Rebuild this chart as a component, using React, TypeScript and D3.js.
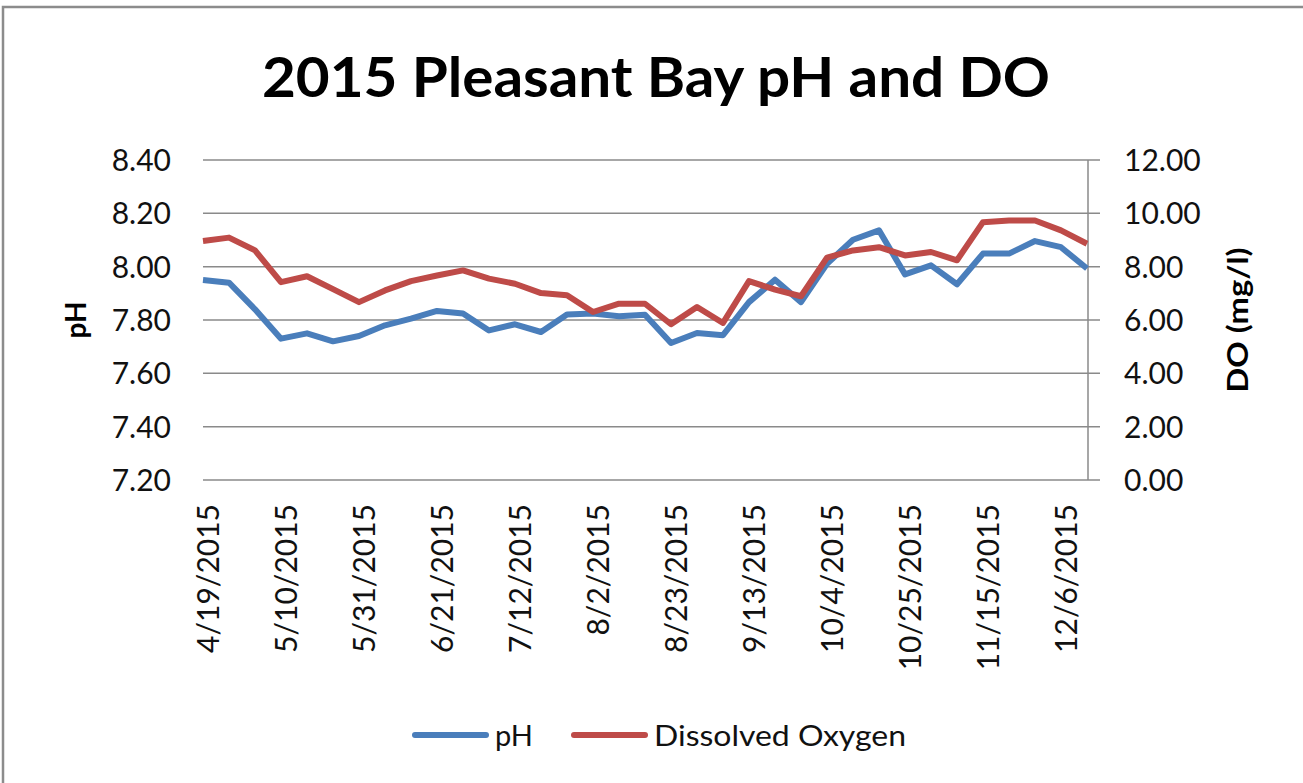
import React, { useEffect, useRef } from 'react';
import * as d3 from 'd3';

const dates = [
  '4/19/2015', '4/26/2015', '5/3/2015', '5/10/2015', '5/17/2015', '5/24/2015', '5/31/2015',
  '6/7/2015', '6/14/2015', '6/21/2015', '6/28/2015', '7/5/2015', '7/12/2015', '7/19/2015',
  '7/26/2015', '8/2/2015', '8/9/2015', '8/16/2015', '8/23/2015', '8/30/2015', '9/6/2015',
  '9/13/2015', '9/20/2015', '9/27/2015', '10/4/2015', '10/11/2015', '10/18/2015', '10/25/2015',
  '11/1/2015', '11/8/2015', '11/15/2015', '11/22/2015', '11/29/2015', '12/6/2015', '12/13/2015',
];

const phValues = [
  7.95, 7.94, 7.84, 7.73, 7.75, 7.72, 7.74,
  7.78, 7.805, 7.834, 7.824, 7.761, 7.784, 7.755,
  7.821, 7.824, 7.814, 7.82, 7.714, 7.751, 7.743,
  7.867, 7.951, 7.867, 8.011, 8.101, 8.136, 7.971,
  8.005, 7.934, 8.049, 8.049, 8.096, 8.073, 7.993,
];

const doValues = [
  8.96, 9.09, 8.61, 7.42, 7.64, 7.16, 6.67,
  7.11, 7.46, 7.67, 7.86, 7.55, 7.36, 7.01,
  6.93, 6.3, 6.61, 6.61, 5.84, 6.49, 5.89,
  7.46, 7.14, 6.89, 8.34, 8.61, 8.73, 8.42,
  8.55, 8.24, 9.67, 9.73, 9.73, 9.36, 8.86,
];

const xTickLabels = [
  '4/19/2015', '5/10/2015', '5/31/2015', '6/21/2015', '7/12/2015', '8/2/2015',
  '8/23/2015', '9/13/2015', '10/4/2015', '10/25/2015', '11/15/2015', '12/6/2015',
];

const phTicks = [7.2, 7.4, 7.6, 7.8, 8.0, 8.2, 8.4];
const doTicks = [0, 2, 4, 6, 8, 10, 12];

const App = () => {
  const ref = useRef<SVGSVGElement>(null);

  useEffect(() => {
    const svg = d3.select(ref.current);
    svg.selectAll('*').remove();

    const font = 'Lato, "Liberation Sans", sans-serif';
    const parse = d3.timeParse('%m/%d/%Y');
    const left = 203;
    const right = 1088;
    const top = 160;
    const bottom = 480;

    const x = d3.scaleTime()
      .domain([parse(dates[0]), parse(dates[dates.length - 1])])
      .range([left, right - 1]);
    const yPh = d3.scaleLinear().domain([7.2, 8.4]).range([bottom, top]);
    const yDo = d3.scaleLinear().domain([0, 12]).range([bottom, top]);

    // frame
    svg.append('rect')
      .attr('x', 3).attr('y', 7)
      .attr('width', 1320).attr('height', 800)
      .attr('fill', 'white')
      .attr('stroke', '#8c8c8c')
      .attr('stroke-width', 2.5);

    svg.append('text')
      .attr('x', 656).attr('y', 97)
      .attr('text-anchor', 'middle')
      .attr('font-family', font)
      .attr('font-weight', 700)
      .attr('font-size', 56)
      .attr('textLength', 788)
      .attr('lengthAdjust', 'spacingAndGlyphs')
      .text('2015 Pleasant Bay pH and DO');

    // gridlines
    svg.append('g')
      .selectAll('line')
      .data(phTicks)
      .enter()
      .append('line')
      .attr('x1', left).attr('x2', right + 12)
      .attr('y1', d => yPh(d)).attr('y2', d => yPh(d))
      .attr('stroke', '#8a8a8a')
      .attr('stroke-width', 1.5);

    // right axis line
    svg.append('line')
      .attr('x1', right).attr('x2', right)
      .attr('y1', top).attr('y2', bottom)
      .attr('stroke', '#8a8a8a')
      .attr('stroke-width', 1.5);

    svg.append('g')
      .selectAll('text')
      .data(phTicks)
      .enter()
      .append('text')
      .attr('x', 171).attr('y', d => yPh(d) + 11)
      .attr('text-anchor', 'end')
      .attr('font-family', font)
      .attr('font-size', 30)
      .attr('fill', '#111')
      .text(d => d3.format('.2f')(d));

    svg.append('g')
      .selectAll('text')
      .data(doTicks)
      .enter()
      .append('text')
      .attr('x', 1124).attr('y', d => yDo(d) + 11)
      .attr('text-anchor', 'start')
      .attr('font-family', font)
      .attr('font-size', 30)
      .attr('fill', '#111')
      .text(d => d3.format('.2f')(d));

    svg.append('text')
      .attr('transform', `translate(86,${(top + bottom) / 2}) rotate(-90)`)
      .attr('text-anchor', 'middle')
      .attr('font-family', font)
      .attr('font-weight', 700)
      .attr('font-size', 28)
      .text('pH');

    svg.append('text')
      .attr('transform', `translate(1248,${(top + bottom) / 2}) rotate(-90)`)
      .attr('text-anchor', 'middle')
      .attr('font-family', font)
      .attr('font-weight', 700)
      .attr('font-size', 29)
      .attr('textLength', 145)
      .attr('lengthAdjust', 'spacingAndGlyphs')
      .text('DO (mg/l)');

    // x labels
    svg.append('g')
      .selectAll('text')
      .data(xTickLabels)
      .enter()
      .append('text')
      .attr('transform', d => `translate(${x(parse(d)) + 16},${bottom + 24}) rotate(-90)`)
      .attr('text-anchor', 'end')
      .attr('font-family', font)
      .attr('font-size', 30)
      .attr('fill', '#111')
      .text(d => d);

    const phLine = d3.line<number>()
      .x((d, i) => x(parse(dates[i])))
      .y(d => yPh(d));
    const doLine = d3.line<number>()
      .x((d, i) => x(parse(dates[i])))
      .y(d => yDo(d));

    svg.append('path')
      .datum(phValues)
      .attr('d', phLine)
      .attr('fill', 'none')
      .attr('stroke', '#4a7ebb')
      .attr('stroke-width', 6)
      .attr('stroke-linejoin', 'round');

    svg.append('path')
      .datum(doValues)
      .attr('d', doLine)
      .attr('fill', 'none')
      .attr('stroke', '#be4b48')
      .attr('stroke-width', 6)
      .attr('stroke-linejoin', 'round');

    // legend
    const legend = [
      { name: 'pH', color: '#4a7ebb', x: 415, w: 38 },
      { name: 'Dissolved Oxygen', color: '#be4b48', x: 574, w: 252 },
    ];
    const lg = svg.append('g').selectAll('g').data(legend).enter().append('g');
    lg.append('line')
      .attr('x1', d => d.x).attr('x2', d => d.x + 71)
      .attr('y1', 735).attr('y2', 735)
      .attr('stroke', d => d.color)
      .attr('stroke-width', 6)
      .attr('stroke-linecap', 'round');
    lg.append('text')
      .attr('x', d => d.x + 80).attr('y', 746)
      .attr('font-family', font)
      .attr('font-size', 29)
      .attr('textLength', d => d.w)
      .attr('lengthAdjust', 'spacingAndGlyphs')
      .attr('fill', '#111')
      .text(d => d.name);
  }, []);

  return (
    <svg
      ref={ref}
      width={1303}
      height={783}
      style={{ position: 'absolute', left: 0, top: 0, background: 'white' }}
    />
  );
};

export default App;
